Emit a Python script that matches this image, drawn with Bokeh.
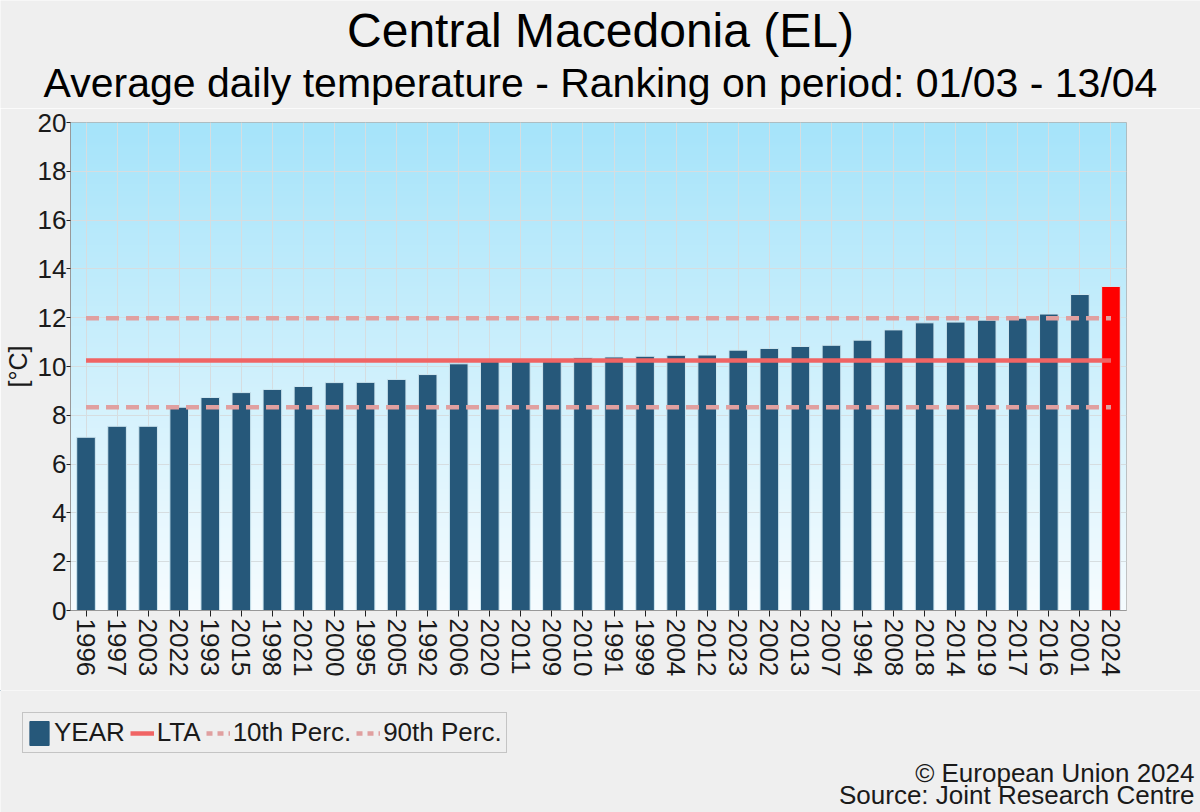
import math
import numpy as np
from bokeh.plotting import figure
from bokeh.layouts import column
from bokeh.models import (FactorRange, Range1d, Label, Legend, LegendItem,
                          ColumnDataSource, FixedTicker)
from bokeh.embed import file_html
from bokeh.resources import INLINE

# Ranked average daily temperature, 01/03 - 13/04
years = ["1996", "1997", "2003", "2022", "1993", "2015", "1998", "2021", "2000",
         "1995", "2005", "1992", "2006", "2020", "2011", "2009", "2010", "1991",
         "1999", "2004", "2012", "2023", "2002", "2013", "2007", "1994", "2008",
         "2018", "2014", "2019", "2017", "2016", "2001", "2024"]
temps = [7.10, 7.55, 7.55, 8.33, 8.73, 8.93, 9.06, 9.18, 9.34,
         9.35, 9.47, 9.67, 10.11, 10.22, 10.23, 10.24, 10.36, 10.39,
         10.42, 10.46, 10.47, 10.67, 10.74, 10.82, 10.87, 11.08, 11.50,
         11.79, 11.82, 11.90, 11.98, 12.15, 12.95, 13.28]
current_year = "2024"
lta = 10.25
perc10 = 8.33
perc90 = 11.98
y_ticks = [0, 2, 4, 6, 8, 10, 12, 14, 16, 18, 20]

title_text = "Central Macedonia (EL)"
subtitle_text = "Average daily temperature - Ranking on period: 01/03 - 13/04"
footer_lines = ["© European Union 2024", "Source: Joint Research Centre"]
legend_labels = ["YEAR", "LTA", "10th Perc.", "90th Perc."]

FONT = "Liberation Sans"
BAR_BLUE = "#26587a"
BAR_RED = "#ff0000"
LTA_RED = "#f06464"
PERC_PINK = "#e0a0a0"
PAGE_BG = "#efefef"
TEXT = "#1a1a1a"

W = 1200
HEAD_H = 108          # title strip
MAIN_H = 582          # chart: 14 top + 488 frame + 80 axis
FOOT_H = 122          # legend + credits strip


def strip(height, y_top):
    """A bare figure whose data units are the page's pixels (y downwards)."""
    f = figure(width=W, height=height, output_backend="svg", toolbar_location=None,
               title=None, x_axis_location=None, y_axis_location=None,
               x_range=Range1d(0, W), y_range=Range1d(y_top + height, y_top),
               min_border=0, min_border_left=0, min_border_right=0,
               min_border_top=0, min_border_bottom=0, frame_align=False,
               border_fill_color=PAGE_BG,
               background_fill_color=PAGE_BG, outline_line_color=None)
    f.title = None
    f.grid.visible = False
    return f


def text_label(x, y, text, size, align, color):
    return Label(x=x, y=y, text=text, text_align=align, text_baseline="middle",
                 text_font=FONT, text_font_size=size, text_color=color)


# ---- title strip (label y = vertical middle of the text line)
head = strip(HEAD_H, 0)
head.add_layout(text_label(600, 30, title_text, "48px", "center", "#000000"))
head.add_layout(text_label(600, 82, subtitle_text, "41px", "center", "#000000"))

# ---- main chart
p = figure(width=W, height=MAIN_H,
           x_range=FactorRange(*years), y_range=Range1d(0, 20),
           output_backend="svg", toolbar_location=None, frame_align=False,
           min_border_left=67, min_border_right=74,
           min_border_top=14, min_border_bottom=80,
           border_fill_color=PAGE_BG, background_fill_color="white",
           outline_line_color="#b0b0b0")

# sky-blue vertical gradient behind the plot area
n = 200
frac = np.linspace(0.0, 1.0, n)[:, None]
c_bottom = np.array([246, 252, 255], dtype=float)
c_top = np.array([166, 228, 250], dtype=float)
rgb = c_bottom + (c_top - c_bottom) * frac
img = np.empty((n, 1), dtype=np.uint32)
view = img.view(dtype=np.uint8).reshape((n, 1, 4))
view[:, 0, 0] = rgb[:, 0].astype(np.uint8)
view[:, 0, 1] = rgb[:, 1].astype(np.uint8)
view[:, 0, 2] = rgb[:, 2].astype(np.uint8)
view[:, 0, 3] = 255
p.image_rgba(image=[img], x=0, y=0, dw=len(years), dh=20, level="image")

p.xgrid.grid_line_color = "#d6dde0"
p.ygrid.grid_line_color = "#d6dde0"

colors = [BAR_RED if y == current_year else BAR_BLUE for y in years]
src = ColumnDataSource(dict(year=years, temp=temps, color=colors))
p.vbar(x="year", top="temp", width=0.6, source=src,
       fill_color="color", line_color="#cfe8f2", line_width=1)

x_span = [years[0], years[-1]]
p.line(x=x_span, y=[lta, lta], line_color=LTA_RED, line_width=4.5)
p.line(x=x_span, y=[perc10, perc10], line_color=PERC_PINK, line_width=4.5,
       line_dash="13 7")
p.line(x=x_span, y=[perc90, perc90], line_color=PERC_PINK, line_width=4.5,
       line_dash="13 7")

p.yaxis.ticker = FixedTicker(ticks=y_ticks)
p.yaxis.axis_label = "[°C]"
p.yaxis.axis_label_text_font = FONT
p.yaxis.axis_label_text_font_size = "25px"
p.yaxis.axis_label_text_font_style = "normal"
p.yaxis.axis_label_text_color = TEXT
p.yaxis.axis_label_standoff = 3
for ax in (p.xaxis[0], p.yaxis[0]):
    ax.major_label_text_font = FONT
    ax.major_label_text_font_size = "26px"
    ax.major_label_text_color = TEXT
    ax.axis_line_color = "#999999"
    ax.major_tick_line_color = "#222222"
    ax.minor_tick_line_color = None
    ax.major_tick_in = 0
p.xaxis.major_tick_out = 6
p.xaxis.major_label_standoff = 2
p.yaxis.major_tick_out = 4
p.yaxis.major_label_standoff = 0
p.xaxis.major_label_orientation = -math.pi / 2

# ---- legend + credits strip
FOOT_TOP = HEAD_H + MAIN_H
foot = strip(FOOT_H, FOOT_TOP)
off = [-100, -90]   # swatch renderers sit outside the visible range
sw_year = foot.vbar(x=[-100], top=[-100], bottom=[-90], width=5,
                    fill_color=BAR_BLUE, line_color=BAR_BLUE)
sw_lta = foot.line(x=off, y=off, line_color=LTA_RED, line_width=4.5)
sw_p10 = foot.line(x=off, y=off, line_color=PERC_PINK, line_width=4.5, line_dash="6 5")
sw_p90 = foot.line(x=off, y=off, line_color=PERC_PINK, line_width=4.5, line_dash="6 5")

legend = Legend(items=[LegendItem(label=lab, renderers=[r]) for lab, r in
                       zip(legend_labels, [sw_year, sw_lta, sw_p10, sw_p90])],
                orientation="horizontal",
                location=(22, FOOT_TOP + FOOT_H - 753),
                border_line_color="#999999", border_line_width=1,
                background_fill_color=PAGE_BG, background_fill_alpha=1,
                label_text_font=FONT, label_text_font_size="26px",
                label_text_color=TEXT, glyph_width=24, glyph_height=30,
                label_standoff=3, spacing=5, padding=4, margin=0)
foot.add_layout(legend, "center")

for line, mid in zip(footer_lines, (772, 794)):
    foot.add_layout(text_label(1194, mid, line, "26px", "right", TEXT))

page = column(head, p, foot, spacing=0)
open("out.html", "w").write(file_html(page, INLINE))
